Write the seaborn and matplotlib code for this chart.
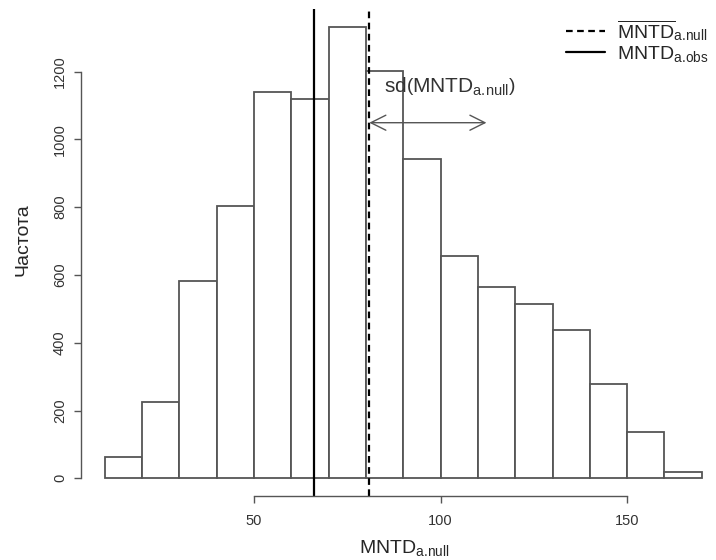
import numpy as np
import matplotlib
matplotlib.use("Agg")
import matplotlib.pyplot as plt
import seaborn as sns
from matplotlib.lines import Line2D

# histogram: bin edges and counts
bin_edges = [10, 20, 30, 40, 50, 60, 70, 80, 90, 100, 110, 120, 130, 140, 150, 160, 170]
counts = [63, 225, 582, 804, 1139, 1119, 1332, 1201, 941, 656, 563, 514, 438, 277, 137, 18]
mntd_obs = 66.2
mntd_null_mean = 80.9
mntd_null_sd = 31.4
x_ticks = [50, 100, 150]
y_ticks = [0, 200, 400, 600, 800, 1000, 1200]

sns.set_style("ticks")
plt.rcParams["font.family"] = ["Liberation Sans", "DejaVu Sans"]
plt.rcParams["mathtext.fontset"] = "custom"
plt.rcParams["mathtext.rm"] = "Liberation Sans"
plt.rcParams["mathtext.it"] = "Liberation Sans"

fig = plt.figure(figsize=(7.16, 5.6), dpi=100)
ax = fig.add_axes([80.8 / 716, 63.6 / 560, 635.2 / 716, 487.6 / 560])

mids = [(a + b) / 2 for a, b in zip(bin_edges[:-1], bin_edges[1:])]
sns.histplot(x=mids, weights=counts, bins=bin_edges, color="white",
             edgecolor="#555555", linewidth=1.3, alpha=1, ax=ax)

ax.axvline(mntd_null_mean, color="black", ls=(0, (3, 2)), lw=1.6)
ax.axvline(mntd_obs, color="black", ls="-", lw=1.6)

# sd arrow
arrow_y = 1049
ax.annotate("", xy=(mntd_null_mean, arrow_y), xytext=(mntd_null_mean + mntd_null_sd, arrow_y),
            arrowprops=dict(arrowstyle="<->,head_length=0.6,head_width=0.3", color="#555555",
                            lw=1.0, mutation_scale=18, shrinkA=0, shrinkB=0))
ax.text(102.5, 1122,
        r"sd$\left(\mathrm{MNTD}_{\mathrm{a.\!null}}\right)$",
        ha="center", va="bottom", fontsize=15, color="#333333")

ax.set_xlim(3.6, 173.8)
ax.set_ylim(-53.3, 1385)
ax.set_xticks(x_ticks)
ax.set_yticks(y_ticks)
ax.set_yticklabels([str(v) for v in y_ticks], rotation=90, va="center")
ax.tick_params(axis="both", labelsize=10.5, length=5, width=1, color="#555555",
               labelcolor="#333333")
ax.tick_params(axis="x", pad=8)
ax.tick_params(axis="y", pad=5)
ax.spines["top"].set_visible(False)
ax.spines["right"].set_visible(False)
ax.spines["left"].set_bounds(0, 1200)
ax.spines["bottom"].set_bounds(50, 150)
for s in ("left", "bottom"):
    ax.spines[s].set_color("#555555")
    ax.spines[s].set_linewidth(1.0)

ax.set_xlabel(r"$\mathrm{MNTD}_{\mathrm{a.\!null}}$", fontsize=14)
ax.set_ylabel("Частота", fontsize=14)
ax.xaxis.set_label_coords(0.51, -0.085)
ax.yaxis.set_label_coords(-0.077, 0.526)

handles = [Line2D([], [], color="black", ls=(0, (3, 2)), lw=1.6),
           Line2D([], [], color="black", ls="-", lw=1.6)]
labels = [r"$\overline{\mathrm{MNTD}}_{\mathrm{a.\!null}}$", r"$\mathrm{MNTD}_{\mathrm{a.\!obs}}$"]
fig.legend(handles, labels, loc="upper left", bbox_to_anchor=(566 / 716, 1 - 18 / 560),
           frameon=False, fontsize=14, handlelength=2.0, handletextpad=0.6,
           labelspacing=0.05, borderaxespad=0, borderpad=0)

fig.savefig("out.png", dpi=100)
